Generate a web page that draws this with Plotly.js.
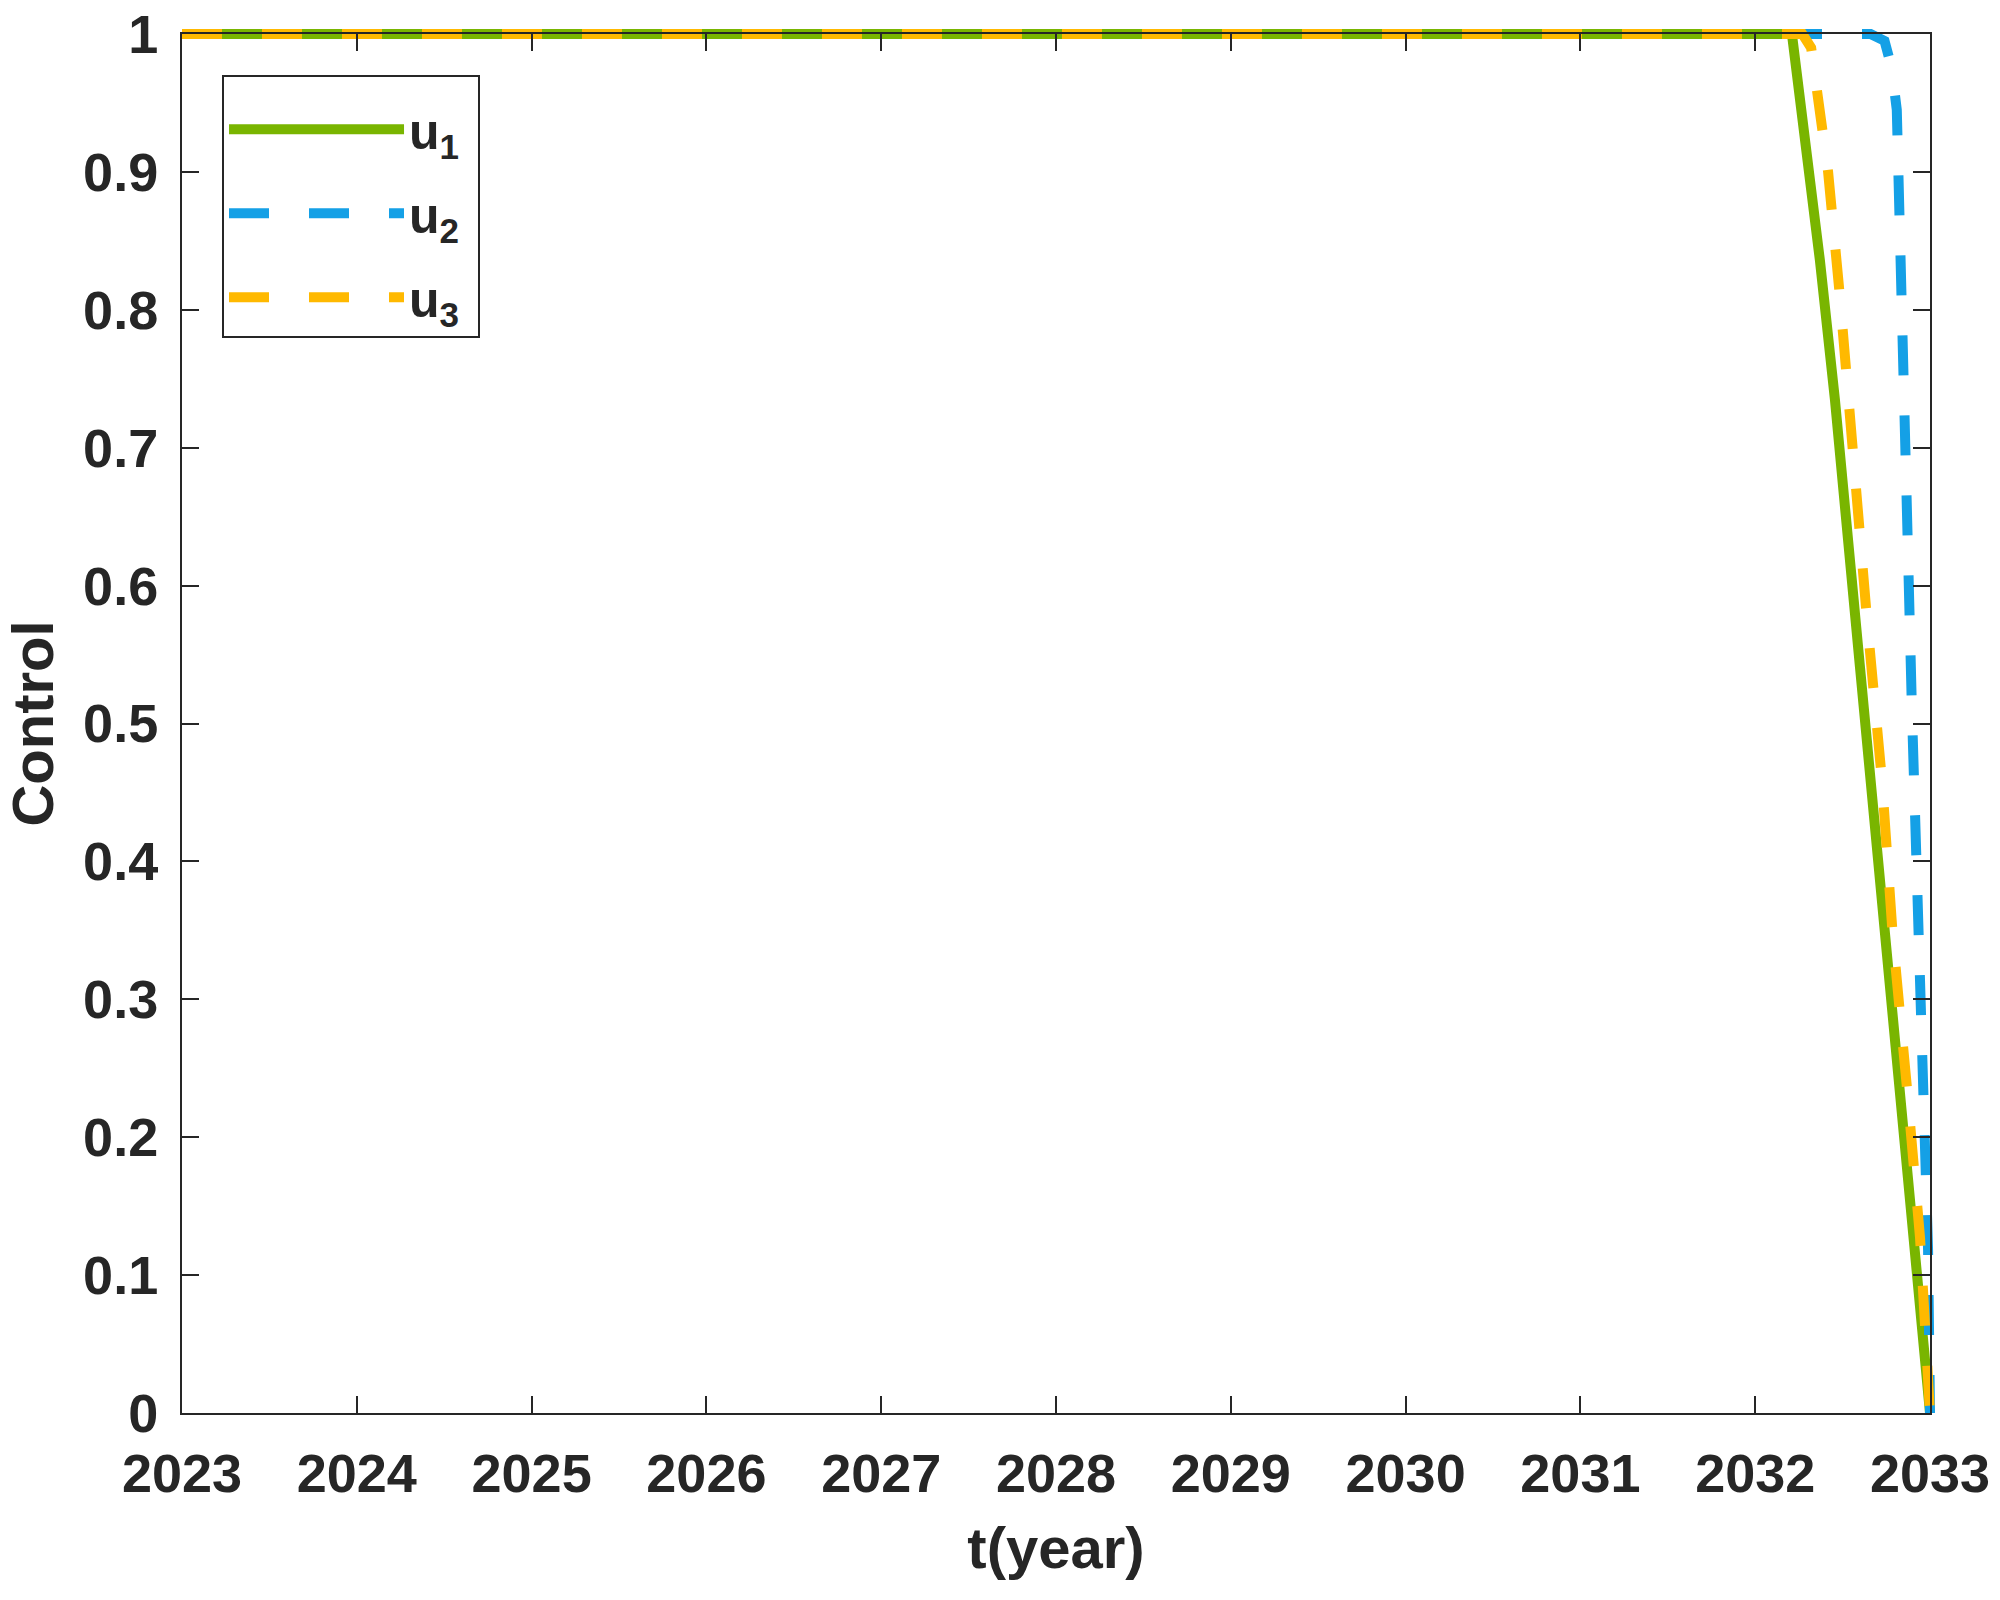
<!DOCTYPE html>
<html>
<head>
<meta charset="utf-8">
<script src="https://cdn.plot.ly/plotly-3.0.1.min.js"></script>
<style>
  html, body { margin: 0; padding: 0; background: #fff; }
  #chart { width: 2000px; height: 1600px; }
</style>
</head>
<body>
<div id="chart"></div>
<script>
// Control profiles u1..u3 over 2023-2033
const tU1 = [2023, 2032.21, 2032.37, 2032.456, 2032.6, 2032.72, 2032.857, 2033];
const u1 = [1, 1, 0.836, 0.735, 0.54, 0.372, 0.19, 0];

const tU2 = [2023, 2032.66, 2032.74, 2032.78, 2032.81, 2032.83, 2032.845, 2032.874,
  2032.897, 2032.926, 2032.949, 2032.97, 2032.989, 2033];
const u2 = [1, 1, 0.995, 0.976, 0.945, 0.859, 0.742, 0.624,
  0.508, 0.39, 0.281, 0.173, 0.118, 0];

const tU3 = [2023, 2032.27, 2032.32, 2032.36, 2032.417, 2032.485, 2032.56, 2032.64,
  2032.725, 2032.788, 2032.868, 2032.943, 2033];
const u3 = [1, 1, 0.99, 0.952, 0.9, 0.809, 0.691, 0.575,
  0.459, 0.344, 0.236, 0.127, 0];

const names = ['u<sub>1</sub>&nbsp;', 'u<sub>2</sub>&nbsp;', 'u<sub>3</sub>&nbsp;'];
const colors = ['#79B500', '#14A0E6', '#FFB900'];

const ink = '#262626';
const fontFam = 'Liberation Sans, Arial, sans-serif';

const mk = (x, y, i, dash) => ({
    x, y,
    type: 'scatter',
    mode: 'lines',
    name: names[i],
    legendgroup: 'g' + i,
    cliponaxis: false,
    line: { color: colors[i], width: 10, dash: dash }
});

const data = [
    mk(tU1, u1, 0, 'solid'),
    mk(tU2, u2, 1, '40px,40px'),
    mk(tU3, u3, 2, '40px,40px')
];

const axisCommon = {
    showgrid: false,
    zeroline: false,
    showline: true,
    linecolor: ink,
    linewidth: 2,
    mirror: 'allticks',
    ticks: 'inside',
    ticklen: 17,
    tickwidth: 2,
    tickcolor: ink,
    tickfont: { family: fontFam, size: 54, color: ink, weight: 'bold' }
};

const layout = {
    width: 2000,
    height: 1600,
    paper_bgcolor: '#fff',
    plot_bgcolor: '#fff',
    font: { family: fontFam, color: ink },
    margin: { l: 182, r: 70, t: 34, b: 187 },
    showlegend: true,
    legend: {
        x: 0.0229, y: 0.970,
        xanchor: 'left', yanchor: 'top',
        bgcolor: '#fff',
        bordercolor: ink,
        borderwidth: 2,
        itemwidth: 175,
        tracegroupgap: 16,
        traceorder: 'grouped',
        title: { text: ' ', font: { size: 10 } },
        font: { family: fontFam, size: 50, color: ink, weight: 'bold' }
    },
    xaxis: Object.assign({}, axisCommon, {
        range: [2023, 2033],
        dtick: 1,
        tick0: 2023,
        ticklabelstandoff: 12,
        title: { text: 't(year)', font: { family: fontFam, size: 58, color: ink, weight: 'bold' }, standoff: 26 }
    }),
    yaxis: Object.assign({}, axisCommon, {
        range: [0, 1],
        dtick: 0.1,
        tick0: 0,
        ticklabelstandoff: 11,
        title: { text: 'Control', font: { family: fontFam, size: 58, color: ink, weight: 'bold' }, standoff: 20 }
    })
};

Plotly.newPlot('chart', data, layout, { displayModeBar: false, staticPlot: true }).then(gd => {
    // let the thick lines spill over the frame like the original figure
    gd.querySelectorAll('.cartesianlayer [clip-path]').forEach(el => el.removeAttribute('clip-path'));
});
</script>
</body>
</html>
